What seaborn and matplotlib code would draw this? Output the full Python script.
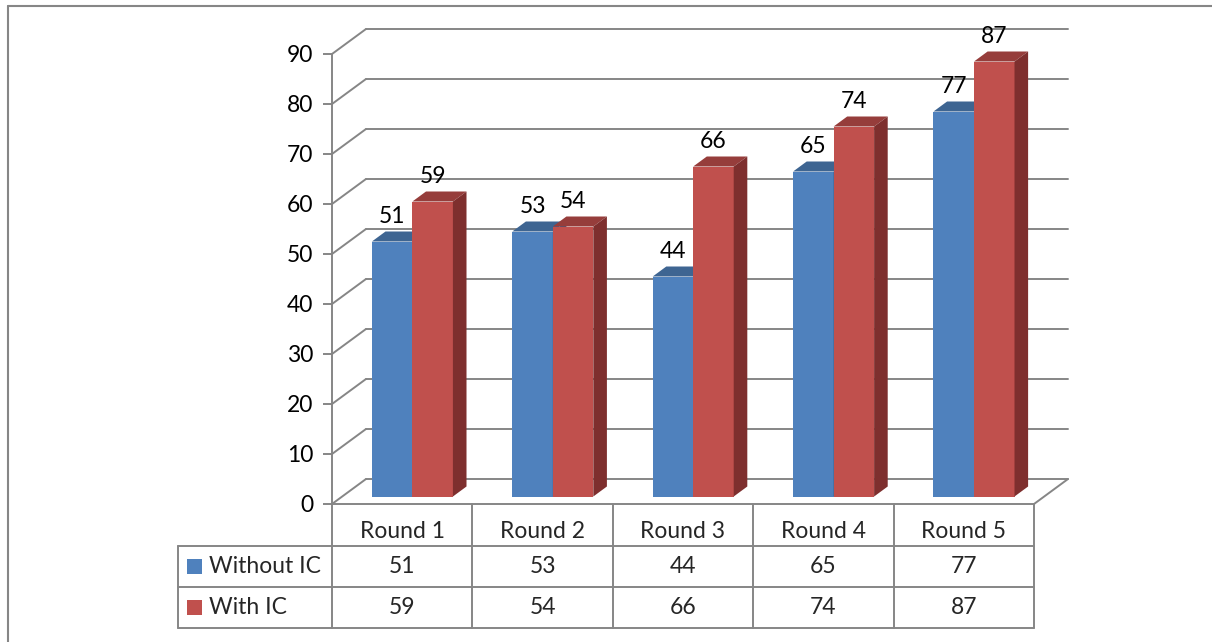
import numpy as np
import pandas as pd
import matplotlib
matplotlib.use('Agg')
import matplotlib.pyplot as plt
import seaborn as sns
from matplotlib.patches import Polygon, Rectangle
from matplotlib.lines import Line2D
from matplotlib.colors import to_rgb

# data
rounds = ['Round 1', 'Round 2', 'Round 3', 'Round 4', 'Round 5']
without_ic = [51, 53, 44, 65, 77]
with_ic = [59, 54, 66, 74, 87]
series = ['Without IC', 'With IC']
yticks = list(range(0, 100, 10))

df = pd.DataFrame({
    'Round': rounds * 2,
    'Score': without_ic + with_ic,
    'Series': [series[0]] * len(rounds) + [series[1]] * len(rounds),
})

BLUE, RED = '#4F81BD', '#C0504D'
TOP = {'blue': '#3E6592', 'red': '#963D3B'}
SIDE = {'blue': '#385D88', 'red': '#7E2F2E'}
GRAY = '#868686'
FS = 16.5
LW = 1.4

sns.set_theme(style='white')
plt.rcParams['font.family'] = ['Lato', 'DejaVu Sans']

W, H = 1212, 642
fig = plt.figure(figsize=(W / 100, H / 100), dpi=100)
# front plane of the 3d box, in image pixels
X0, X1, Y0, Y90 = 332, 1034, 504, 54
ax = fig.add_axes([X0 / W, 1 - Y0 / H, (X1 - X0) / W, (Y0 - Y90) / H])

sns.barplot(data=df, x='Round', y='Score', hue='Series', hue_order=series,
            palette=[BLUE, RED], width=0.577, gap=0, saturation=1,
            linewidth=0, errorbar=None, legend=False, ax=ax)

ax.set_xlim(-0.5, 4.5)
ax.set_ylim(0, 90)
px_x = (X1 - X0) / 5
px_y = (Y0 - Y90) / 90


def pix(x, y):
    # image pixel -> data coords
    return (x - X0) / px_x - 0.5, (Y0 - y) / px_y


DX, DY = 34 / px_x, 25 / px_y  # full depth of the box
d0, d1 = 0.3, 0.7              # depth span of the bars

# back wall + side wall grid
for v in yticks:
    ax.plot([-0.5 + DX, 4.5 + DX], [v + DY, v + DY], color=GRAY, lw=LW, zorder=1, clip_on=False)
    ax.plot([-0.5, -0.5 + DX], [v, v + DY], color=GRAY, lw=LW, zorder=1, clip_on=False)
ax.plot([4.5, 4.5 + DX], [0, DY], color=GRAY, lw=LW, zorder=1, clip_on=False)

# 3d bars
for p in list(ax.patches):
    x, w, h = p.get_x(), p.get_width(), p.get_height()
    kind = 'red' if np.allclose(p.get_facecolor()[:3], to_rgb(RED), atol=0.02) else 'blue'
    z = 4 if kind == 'red' else 3
    fx0, fy0 = x + d0 * DX, d0 * DY
    fx1, fy1 = fx0 + w, fy0 + h
    ddx, ddy = (d1 - d0) * DX, (d1 - d0) * DY
    p.set_x(fx0)
    p.set_y(fy0)
    p.set_zorder(z)
    p.set_clip_on(False)
    ax.add_patch(Polygon([(fx0, fy1), (fx1, fy1), (fx1 + ddx, fy1 + ddy), (fx0 + ddx, fy1 + ddy)],
                         closed=True, fc=TOP[kind], ec='none', zorder=z + 0.1, clip_on=False))
    ax.add_patch(Polygon([(fx1, fy0), (fx1 + ddx, fy0 + ddy), (fx1 + ddx, fy1 + ddy), (fx1, fy1)],
                         closed=True, fc=SIDE[kind], ec='none', zorder=z + 0.1, clip_on=False))
    ax.annotate(f'{h:.0f}', xy=(fx0 + w / 2, fy1 + ddy), xytext=(0, 6.3), textcoords='offset points',
                ha='center', va='baseline', fontsize=FS, color='black', annotation_clip=False, zorder=6)

# axes look
ax.set_xlabel('')
ax.set_ylabel('')
ax.set_xticks([])
ax.set_yticks(yticks)
ax.tick_params(axis='y', left=True, length=6.5, width=LW, color=GRAY, pad=7, labelsize=FS, labelcolor='black')
for s in ['top', 'right']:
    ax.spines[s].set_visible(False)
for s in ['left', 'bottom']:
    ax.spines[s].set_color(GRAY)
    ax.spines[s].set_linewidth(LW)
ax.patch.set_alpha(0)

# data table
tl = dict(color=GRAY, lw=LW, clip_on=False, zorder=2)
xl, _ = pix(178.3, 0)
_, yh = pix(0, 546)
_, yr1 = pix(0, 587)
_, yr2 = pix(0, 628)
for y in [yh, yr1, yr2]:
    ax.plot([xl, 4.5], [y, y], **tl)
ax.plot([xl, xl], [yh, yr2], **tl)
for i in range(6):
    ax.plot([i - 0.5, i - 0.5], [0, yr2], **tl)

_, ty0 = pix(0, 531)
_, ty1 = pix(0, 566.5)
_, ty2 = pix(0, 607.5)
for i, r in enumerate(rounds):
    ax.text(i, ty0, r, ha='center', va='center', fontsize=FS)
    ax.text(i, ty1, str(without_ic[i]), ha='center', va='center', fontsize=FS)
    ax.text(i, ty2, str(with_ic[i]), ha='center', va='center', fontsize=FS)

sx, _ = pix(187, 0)
lx, _ = pix(209, 0)
sw = 15 / px_x
sh = 15 / px_y
for ty, name, col in [(ty1, series[0], BLUE), (ty2, series[1], RED)]:
    ax.add_patch(Rectangle((sx, ty - sh / 2), sw, sh, fc=col, ec='none', clip_on=False))
    ax.text(lx, ty, name, ha='left', va='center', fontsize=FS)

# outer frame (top and left edges only)
fig.add_artist(Line2D([8 / W, 1], [1 - 6 / H, 1 - 6 / H], color=GRAY, lw=1.5))
fig.add_artist(Line2D([8 / W, 8 / W], [0, 1 - 6 / H], color=GRAY, lw=1.5))

fig.savefig('out.png', dpi=100)
